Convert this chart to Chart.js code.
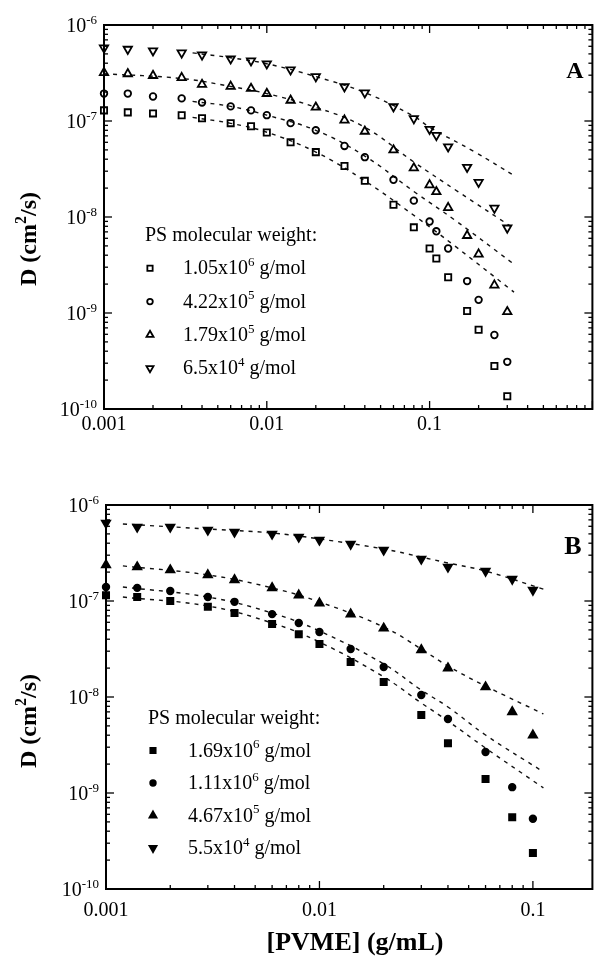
<!DOCTYPE html>
<html>
<head>
<meta charset="utf-8">
<script src="https://cdn.jsdelivr.net/npm/chart.js@4.4.0/dist/chart.umd.min.js"></script>
<style>
  html, body { margin: 0; padding: 0; background: #fff; }
  #wrap { position: relative; width: 599px; height: 960px; }
  canvas { position: absolute; left: 0; }
  #chartA { top: 0; }
  #chartB { top: 480px; }
</style>
</head>
<body>
<div id="wrap">
  <canvas id="chartA" width="599" height="480"></canvas>
  <canvas id="chartB" width="599" height="480"></canvas>
</div>
<script>
// ---- Panel A data (open symbols) ----
const concA = [0.001, 0.0014, 0.002, 0.003, 0.004, 0.006, 0.008, 0.01, 0.014, 0.02, 0.03, 0.04, 0.06, 0.08, 0.1, 0.11, 0.13, 0.17, 0.2, 0.25, 0.3];
const dA_1050k = [1.29e-7, 1.23e-7, 1.2e-7, 1.15e-7, 1.07e-7, 9.5e-8, 8.8e-8, 7.6e-8, 6.0e-8, 4.74e-8, 3.4e-8, 2.38e-8, 1.34e-8, 7.8e-9, 4.7e-9, 3.7e-9, 2.36e-9, 1.05e-9, 6.7e-10, 2.8e-10, 1.36e-10];
const dA_422k = [1.93e-7, 1.93e-7, 1.8e-7, 1.72e-7, 1.56e-7, 1.42e-7, 1.29e-7, 1.15e-7, 9.5e-8, 8.0e-8, 5.5e-8, 4.2e-8, 2.44e-8, 1.48e-8, 8.97e-9, 7.1e-9, 4.7e-9, 2.15e-9, 1.37e-9, 5.9e-10, 3.1e-10];
const dA_179k = [3.19e-7, 3.1e-7, 2.97e-7, 2.83e-7, 2.4e-7, 2.29e-7, 2.18e-7, 1.93e-7, 1.64e-7, 1.39e-7, 1.02e-7, 7.8e-8, 4.98e-8, 3.24e-8, 2.16e-8, 1.83e-8, 1.25e-8, 6.4e-9, 4.1e-9, 1.95e-9, 1.03e-9];
const dA_65k = [5.78e-7, 5.6e-7, 5.4e-7, 5.13e-7, 4.89e-7, 4.45e-7, 4.24e-7, 3.95e-7, 3.42e-7, 2.9e-7, 2.28e-7, 1.97e-7, 1.41e-7, 1.06e-7, 8.2e-8, 7.1e-8, 5.4e-8, 3.3e-8, 2.3e-8, 1.24e-8, 7.7e-9];

// dashed fit curves, panel A
const fitXA = [0.0035, 0.006, 0.01, 0.02, 0.04, 0.082, 0.144, 0.33];
const fitA_1050k = [1.09e-7, 9.46e-8, 7.64e-8, 4.75e-8, 2.38e-8, 1.01e-8, 4.94e-9, 1.65e-9];
const fitA_422k = [1.6e-7, 1.42e-7, 1.15e-7, 8.0e-8, 4.31e-8, 1.79e-8, 9.2e-9, 3.22e-9];
const fitXA_179k = [0.001, 0.003, 0.006, 0.01, 0.02, 0.04, 0.08, 0.15, 0.33];
const fitA_179k = [3.11e-7, 2.77e-7, 2.29e-7, 1.93e-7, 1.39e-7, 8.6e-8, 3.74e-8, 1.83e-8, 7.6e-9];
const fitXA_65k = [0.0035, 0.006, 0.01, 0.02, 0.04, 0.08, 0.1, 0.19, 0.34];
const fitA_65k = [5.13e-7, 4.56e-7, 3.95e-7, 2.9e-7, 1.98e-7, 1.12e-7, 8.6e-8, 4.75e-8, 2.62e-8];

// ---- Panel B data (filled symbols) ----
const concB = [0.001, 0.0014, 0.002, 0.003, 0.004, 0.006, 0.008, 0.01, 0.014, 0.02, 0.03, 0.04, 0.06, 0.08, 0.1];
const dB_1690k = [1.15e-7, 1.1e-7, 1.0e-7, 8.7e-8, 7.5e-8, 5.75e-8, 4.5e-8, 3.56e-8, 2.32e-8, 1.43e-8, 6.5e-9, 3.3e-9, 1.4e-9, 5.6e-10, 2.37e-10];
const dB_1110k = [1.4e-7, 1.37e-7, 1.27e-7, 1.1e-7, 9.8e-8, 7.3e-8, 5.9e-8, 4.75e-8, 3.16e-8, 2.05e-8, 1.05e-8, 5.9e-9, 2.67e-9, 1.15e-9, 5.4e-10];
const dB_467k = [2.37e-7, 2.26e-7, 2.1e-7, 1.87e-7, 1.66e-7, 1.37e-7, 1.15e-7, 9.5e-8, 7.3e-8, 5.2e-8, 3.1e-8, 2.0e-8, 1.27e-8, 7.0e-9, 4.0e-9];
const dB_55k = [6.5e-7, 5.9e-7, 5.9e-7, 5.5e-7, 5.23e-7, 4.99e-7, 4.64e-7, 4.32e-7, 3.92e-7, 3.4e-7, 2.74e-7, 2.26e-7, 2.05e-7, 1.69e-7, 1.3e-7];

// dashed fit curves, panel B
const fitXB = [0.0012, 0.003, 0.006, 0.01, 0.02, 0.03, 0.04, 0.06, 0.112];
const fitB_1690k = [1.1e-7, 8.87e-8, 5.9e-8, 3.74e-8, 1.62e-8, 8.66e-9, 5.62e-9, 2.94e-9, 1.13e-9];
const fitB_1110k = [1.4e-7, 1.1e-7, 7.5e-8, 4.87e-8, 2.21e-8, 1.18e-8, 7.87e-9, 4.02e-9, 1.66e-9];
const fitB_467k = [2.32e-7, 1.87e-7, 1.37e-7, 9.77e-8, 5.36e-8, 3.16e-8, 2.1e-8, 1.3e-8, 6.66e-9];
const fitB_55k = [6.34e-7, 5.62e-7, 5.11e-7, 4.43e-7, 3.48e-7, 2.87e-7, 2.49e-7, 2.05e-7, 1.33e-7];

// legend labels and tick labels
const labelsA = ['1.05x10^{6} g/mol', '4.22x10^{5} g/mol', '1.79x10^{5} g/mol', '6.5x10^{4} g/mol'];
const labelsB = ['1.69x10^{6} g/mol', '1.11x10^{6} g/mol', '4.67x10^{5} g/mol', '5.5x10^{4} g/mol'];
const legendTitle = 'PS molecular weight:';
const xTickVals = [0.001, 0.01, 0.1];
const xTickLabels = ['0.001', '0.01', '0.1'];
const yTickVals = [1e-6, 1e-7, 1e-8, 1e-9, 1e-10];
const yTickLabels = ['10^{-6}', '10^{-7}', '10^{-8}', '10^{-9}', '10^{-10}'];
const yTitle = 'D (cm^{2}/s)';
const xTitle = '[PVME] (g/mL)';

const FONT = '"Liberation Serif", "Times New Roman", serif';

function pts(xs, ys) {
    return xs.map((x, i) => ({ x: x, y: ys[i] }));
}

// split 'a^{b}c' into normal / superscript pieces
function partsOf(str) {
    const out = [];
    const re = /\^\{([^}]*)\}/g;
    let last = 0, m;
    while ((m = re.exec(str))) {
        if (m.index > last) out.push({ t: str.slice(last, m.index), sup: false });
        out.push({ t: m[1], sup: true });
        last = re.lastIndex;
    }
    if (last < str.length) out.push({ t: str.slice(last), sup: false });
    return out;
}

function drawRich(ctx, str, x, y, size, align, bold) {
    const parts = partsOf(str);
    const supSize = Math.round(size * 0.65);
    const fontOf = (p) => (bold ? 'bold ' : '') + (p.sup ? supSize : size) + 'px ' + FONT;
    const widths = parts.map(p => { ctx.font = fontOf(p); return ctx.measureText(p.t).width; });
    const total = widths.reduce((a, b) => a + b, 0);
    let cx = align === 'right' ? x - total : (align === 'center' ? x - total / 2 : x);
    ctx.textAlign = 'left';
    ctx.textBaseline = 'alphabetic';
    parts.forEach((p, i) => {
        ctx.font = fontOf(p);
        ctx.fillText(p.t, cx, p.sup ? y - size * 0.42 : y);
        cx += widths[i];
    });
}

function logTicks(min, max) {
    const out = [];
    for (let e = Math.floor(Math.log10(min)); e <= Math.ceil(Math.log10(max)); e++) {
        for (let m = 1; m <= 9; m++) {
            const v = m * Math.pow(10, e);
            if (v >= min * 0.999 && v <= max * 1.001) out.push({ v: v, major: m === 1 });
        }
    }
    return out;
}

function seg(ctx, x1, y1, x2, y2) {
    ctx.beginPath();
    ctx.moveTo(x1, y1);
    ctx.lineTo(x2, y2);
    ctx.stroke();
}

// frame, inward ticks, tick labels, titles and legend
const framePlugin = {
    id: 'frame',
    afterDatasetsDraw(chart, args, o) {
        const ctx = chart.ctx;
        const a = chart.chartArea;
        const xs = chart.scales.x, ys = chart.scales.y;
        ctx.save();
        ctx.strokeStyle = '#000';
        ctx.fillStyle = '#000';
        ctx.lineWidth = 2;
        ctx.strokeRect(a.left, a.top, a.right - a.left, a.bottom - a.top);

        ctx.lineWidth = 1.3;
        logTicks(xs.min, xs.max).forEach(t => {
            const px = xs.getPixelForValue(t.v);
            const len = t.major ? 8 : 4;
            seg(ctx, px, a.bottom, px, a.bottom - len);
            seg(ctx, px, a.top, px, a.top + len);
        });
        logTicks(ys.min, ys.max).forEach(t => {
            const py = ys.getPixelForValue(t.v);
            const len = t.major ? 8 : 4;
            seg(ctx, a.left, py, a.left + len, py);
            seg(ctx, a.right, py, a.right - len, py);
        });

        xTickVals.forEach((v, i) => {
            drawRich(ctx, xTickLabels[i], xs.getPixelForValue(v), a.bottom + o.xLabelDy, 20, 'center', false);
        });
        yTickVals.forEach((v, i) => {
            drawRich(ctx, yTickLabels[i], a.left - 7, ys.getPixelForValue(v) + 7, 20, 'right', false);
        });

        // y title, rotated
        ctx.save();
        ctx.translate(o.yTitleX, o.yTitleY);
        ctx.rotate(-Math.PI / 2);
        drawRich(ctx, yTitle, 0, 0, 24, 'center', true);
        ctx.restore();

        if (o.xTitle) drawRich(ctx, xTitle, o.xTitle.x, o.xTitle.y, 26, 'center', true);

        // panel letter
        drawRich(ctx, o.letter.text, o.letter.x, o.letter.y, o.letter.size, 'center', true);

        // legend
        const lg = o.legend;
        drawRich(ctx, legendTitle, lg.x, lg.y, 20, 'left', false);
        chart.data.datasets.filter(d => d.legendRow !== undefined).forEach(d => {
            const ry = lg.y + lg.gap * (d.legendRow + 1);
            ctx.strokeStyle = '#000';
            ctx.fillStyle = d.backgroundColor;
            ctx.lineWidth = d.pointBorderWidth;
            Chart.helpers.drawPoint(ctx, {
                pointStyle: d.pointStyle,
                radius: d.pointRadius * 0.85,
                rotation: d.pointRotation || 0,
                borderWidth: d.pointBorderWidth
            }, lg.x + lg.markerDx, ry - 6);
            ctx.fillStyle = '#000';
            drawRich(ctx, d.label, lg.x + lg.textDx, ry, 20, 'left', false);
        });
        ctx.restore();
    }
};

function markerSet(label, data, style, radius, rotation, filled, row) {
    return {
        label: label,
        data: data,
        showLine: false,
        pointStyle: style,
        pointRadius: radius,
        pointRotation: rotation,
        pointBorderWidth: 1.8,
        borderColor: '#000',
        backgroundColor: filled ? '#000' : 'rgba(255,255,255,0)',
        clip: false,
        legendRow: row,
        order: 1
    };
}

function fitSet(data) {
    return {
        data: data,
        showLine: true,
        pointRadius: 0,
        borderColor: '#111',
        borderWidth: 1.4,
        borderDash: [4, 5],
        tension: 0.4,
        fill: false,
        clip: false,
        order: 2
    };
}

function makeChart(id, datasets, xMax, padLeft, opts) {
    return new Chart(document.getElementById(id), {
        type: 'scatter',
        data: { datasets: datasets },
        options: {
            responsive: false,
            animation: false,
            events: [],
            devicePixelRatio: 1,
            layout: { padding: { left: padLeft, right: 2, top: 25, bottom: 71 } },
            scales: {
                x: { type: 'logarithmic', min: 0.001, max: xMax, display: false },
                y: { type: 'logarithmic', min: 1e-10, max: 1e-6, display: false }
            },
            plugins: {
                legend: { display: false },
                tooltip: { enabled: false },
                frame: opts
            }
        },
        plugins: [framePlugin]
    });
}

const chartA = makeChart('chartA', [
    fitSet(pts(fitXA_65k, fitA_65k)),
    fitSet(pts(fitXA_179k, fitA_179k)),
    fitSet(pts(fitXA, fitA_422k)),
    fitSet(pts(fitXA, fitA_1050k)),
    markerSet(labelsA[0], pts(concA, dA_1050k), 'rect', 4.4, 0, false, 0),
    markerSet(labelsA[1], pts(concA, dA_422k), 'circle', 3.3, 0, false, 1),
    markerSet(labelsA[2], pts(concA, dA_179k), 'triangle', 4.8, 0, false, 2),
    markerSet(labelsA[3], pts(concA, dA_65k), 'triangle', 4.8, 180, false, 3)
], 1, 104, {
    xLabelDy: 21,
    yTitleX: 36, yTitleY: 239,
    letter: { text: 'A', x: 575, y: 78, size: 24 },
    legend: { x: 145, y: 241, gap: 33.3, markerDx: 5, textDx: 38 }
});

const chartB = makeChart('chartB', [
    fitSet(pts(fitXB, fitB_55k)),
    fitSet(pts(fitXB, fitB_467k)),
    fitSet(pts(fitXB, fitB_1110k)),
    fitSet(pts(fitXB, fitB_1690k)),
    markerSet(labelsB[0], pts(concB, dB_1690k), 'rect', 4.4, 0, true, 0),
    markerSet(labelsB[1], pts(concB, dB_1110k), 'circle', 3.3, 0, true, 1),
    markerSet(labelsB[2], pts(concB, dB_467k), 'triangle', 4.8, 0, true, 2),
    markerSet(labelsB[3], pts(concB, dB_55k), 'triangle', 4.8, 180, true, 3)
], 0.19, 106, {
    xLabelDy: 27,
    yTitleX: 36, yTitleY: 241,
    xTitle: { x: 355, y: 470 },
    letter: { text: 'B', x: 573, y: 74, size: 26 },
    legend: { x: 148, y: 244, gap: 32.5, markerDx: 5, textDx: 40 }
});
</script>
</body>
</html>
